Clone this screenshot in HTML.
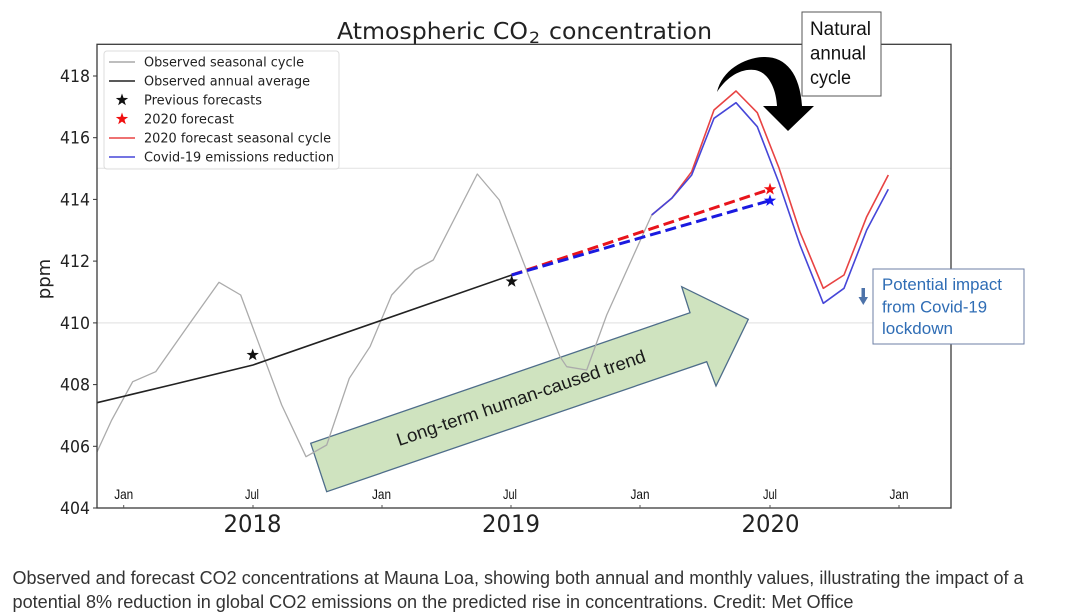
<!DOCTYPE html>
<html><head><meta charset="utf-8"><style>
html,body{margin:0;padding:0;background:#fff;}
svg{display:block;}
</style></head><body>
<svg width="1072" height="616" viewBox="0 0 1072 616" xmlns="http://www.w3.org/2000/svg">
<rect width="1072" height="616" fill="#fff"/>

<!-- title -->
<g font-family="DejaVu Sans, Liberation Sans, sans-serif" fill="#222">
<text x="337" y="39" font-size="23" textLength="191" lengthAdjust="spacingAndGlyphs">Atmospheric CO</text>
<text x="529" y="43" font-size="16" textLength="11" lengthAdjust="spacingAndGlyphs">2</text>
<text x="549" y="39" font-size="23" textLength="163" lengthAdjust="spacingAndGlyphs">concentration</text>
</g>

<!-- grid lines -->
<line x1="97" y1="168.3" x2="951" y2="168.3" stroke="#e6e6e6" stroke-width="1.2"/>
<line x1="97" y1="322.9" x2="951" y2="322.9" stroke="#e6e6e6" stroke-width="1.2"/>

<!-- green trend arrow -->
<polygon points="326.7,491.7 310.7,443.3 690,312.7 681.7,286.7 748.3,319.3 716,386 706.7,361.7" fill="#cfe3bf" stroke="#4e6d8a" stroke-width="1.3" stroke-linejoin="miter"/>
<text transform="translate(521,398) rotate(-18.9)" x="0" y="6" text-anchor="middle" font-family="Liberation Sans, sans-serif" font-size="18" fill="#1a1a1a" textLength="262" lengthAdjust="spacingAndGlyphs">Long-term human-caused trend</text>

<!-- observed seasonal cycle -->
<polyline fill="none" stroke="#ababab" stroke-width="1.3" stroke-linejoin="round" points="97,452 111.7,420 132.7,381.7 155.7,371.7 190,323 219,282.3 240.7,295 281.7,405 306,456.7 326.7,445 349.3,378.3 370,346.7 391.7,295 415,270 433.3,260 477.3,174 499.3,200 560,356.7 566.7,366.7 586.7,370 606.7,315 651.7,215"/>

<!-- observed annual average -->
<polyline fill="none" stroke="#222" stroke-width="1.6" points="97,402.7 175,384 253,365 511.7,275"/>

<!-- dashed forecasts -->
<line x1="511.7" y1="275" x2="770" y2="189.3" stroke="#e8141c" stroke-width="3" stroke-dasharray="11,5"/>
<line x1="511.7" y1="275" x2="770" y2="200.5" stroke="#1a1ae0" stroke-width="3" stroke-dasharray="11,5"/>

<!-- forecast seasonal cycles -->
<polyline fill="none" stroke="#e84343" stroke-width="1.6" stroke-linejoin="round" points="651.7,215 671.7,198.3 691.7,171.7 714,110 736,91 757.3,112.7 779,168 800,232 823.3,288.3 844,275 866.7,216.7 888.3,175"/>
<polyline fill="none" stroke="#4646d8" stroke-width="1.6" stroke-linejoin="round" points="651.7,215 671.7,198.3 691.7,175 714,118.3 736,102.7 757.3,126.7 779,183 800,245 823.3,303.3 844,288.3 866.7,230 888.3,189.3"/>

<!-- stars -->
<path transform="translate(252.7,355)" d="M0,-6.5 L1.53,-2.1 L6.18,-2.01 L2.47,0.8 L3.82,5.26 L0,2.6 L-3.82,5.26 L-2.47,0.8 L-6.18,-2.01 L-1.53,-2.1 Z" fill="#111"/>
<path transform="translate(511.7,281.5)" d="M0,-6.5 L1.53,-2.1 L6.18,-2.01 L2.47,0.8 L3.82,5.26 L0,2.6 L-3.82,5.26 L-2.47,0.8 L-6.18,-2.01 L-1.53,-2.1 Z" fill="#111"/>
<path transform="translate(770,189.3)" d="M0,-6.5 L1.53,-2.1 L6.18,-2.01 L2.47,0.8 L3.82,5.26 L0,2.6 L-3.82,5.26 L-2.47,0.8 L-6.18,-2.01 L-1.53,-2.1 Z" fill="#f01010"/>
<path transform="translate(770,200.7)" d="M0,-6.5 L1.53,-2.1 L6.18,-2.01 L2.47,0.8 L3.82,5.26 L0,2.6 L-3.82,5.26 L-2.47,0.8 L-6.18,-2.01 L-1.53,-2.1 Z" fill="#1515f0"/>

<!-- legend -->
<rect x="104" y="51" width="235" height="118" rx="3" fill="#fff" fill-opacity="0.9" stroke="#dcdcdc" stroke-width="1"/>
<line x1="109" y1="62" x2="135" y2="62" stroke="#a8a8a8" stroke-width="1.4"/>
<line x1="109" y1="81" x2="135" y2="81" stroke="#222" stroke-width="1.6"/>
<path transform="translate(122,100)" d="M0,-6.5 L1.53,-2.1 L6.18,-2.01 L2.47,0.8 L3.82,5.26 L0,2.6 L-3.82,5.26 L-2.47,0.8 L-6.18,-2.01 L-1.53,-2.1 Z" fill="#111"/>
<path transform="translate(122,119)" d="M0,-6.5 L1.53,-2.1 L6.18,-2.01 L2.47,0.8 L3.82,5.26 L0,2.6 L-3.82,5.26 L-2.47,0.8 L-6.18,-2.01 L-1.53,-2.1 Z" fill="#f01010"/>
<line x1="109" y1="138" x2="135" y2="138" stroke="#e84343" stroke-width="1.6"/>
<line x1="109" y1="157" x2="135" y2="157" stroke="#4646d8" stroke-width="1.6"/>
<g font-family="DejaVu Sans, Liberation Sans, sans-serif" font-size="13" fill="#222">
<text x="144" y="66.5" textLength="160" lengthAdjust="spacingAndGlyphs">Observed seasonal cycle</text>
<text x="144" y="85.5" textLength="166" lengthAdjust="spacingAndGlyphs">Observed annual average</text>
<text x="144" y="104.5" textLength="118" lengthAdjust="spacingAndGlyphs">Previous forecasts</text>
<text x="144" y="123.5" textLength="90" lengthAdjust="spacingAndGlyphs">2020 forecast</text>
<text x="144" y="142.5" textLength="187" lengthAdjust="spacingAndGlyphs">2020 forecast seasonal cycle</text>
<text x="144" y="161.5" textLength="190" lengthAdjust="spacingAndGlyphs">Covid-19 emissions reduction</text>
</g>

<!-- axes frame -->
<rect x="97" y="44.3" width="854" height="463.7" fill="none" stroke="#3a3a3a" stroke-width="1.3"/>

<!-- y ticks -->
<g stroke="#333" stroke-width="1">
<line x1="93" y1="76" x2="97" y2="76"/>
<line x1="93" y1="137.7" x2="97" y2="137.7"/>
<line x1="93" y1="199.4" x2="97" y2="199.4"/>
<line x1="93" y1="261.1" x2="97" y2="261.1"/>
<line x1="93" y1="322.9" x2="97" y2="322.9"/>
<line x1="93" y1="384.6" x2="97" y2="384.6"/>
<line x1="93" y1="446.3" x2="97" y2="446.3"/>
<line x1="93" y1="508" x2="97" y2="508"/>
</g>
<g font-family="DejaVu Sans, Liberation Sans, sans-serif" font-size="17" fill="#222" text-anchor="end">
<text x="90" y="82" textLength="30" lengthAdjust="spacingAndGlyphs">418</text>
<text x="90" y="143.7" textLength="30" lengthAdjust="spacingAndGlyphs">416</text>
<text x="90" y="205.4" textLength="30" lengthAdjust="spacingAndGlyphs">414</text>
<text x="90" y="267.1" textLength="30" lengthAdjust="spacingAndGlyphs">412</text>
<text x="90" y="328.9" textLength="30" lengthAdjust="spacingAndGlyphs">410</text>
<text x="90" y="390.6" textLength="30" lengthAdjust="spacingAndGlyphs">408</text>
<text x="90" y="452.3" textLength="30" lengthAdjust="spacingAndGlyphs">406</text>
<text x="90" y="514" textLength="30" lengthAdjust="spacingAndGlyphs">404</text>
</g>
<text transform="translate(50,279) rotate(-90)" x="0" y="0" text-anchor="middle" font-family="DejaVu Sans, Liberation Sans, sans-serif" font-size="18" fill="#222">ppm</text>

<!-- x ticks -->
<g stroke="#555" stroke-width="1">
<line x1="123.7" y1="505" x2="123.7" y2="508"/>
<line x1="253" y1="505" x2="253" y2="508"/>
<line x1="382" y1="505" x2="382" y2="508"/>
<line x1="511" y1="505" x2="511" y2="508"/>
<line x1="640" y1="505" x2="640" y2="508"/>
<line x1="770" y1="505" x2="770" y2="508"/>
<line x1="899" y1="505" x2="899" y2="508"/>
</g>
<g font-family="Liberation Sans, sans-serif" font-size="14" fill="#111" text-anchor="middle">
<text x="123.7" y="499" textLength="19" lengthAdjust="spacingAndGlyphs">Jan</text>
<text x="252" y="499" textLength="14" lengthAdjust="spacingAndGlyphs">Jul</text>
<text x="381.5" y="499" textLength="19" lengthAdjust="spacingAndGlyphs">Jan</text>
<text x="510" y="499" textLength="14" lengthAdjust="spacingAndGlyphs">Jul</text>
<text x="640" y="499" textLength="19" lengthAdjust="spacingAndGlyphs">Jan</text>
<text x="770" y="499" textLength="14" lengthAdjust="spacingAndGlyphs">Jul</text>
<text x="899" y="499" textLength="19" lengthAdjust="spacingAndGlyphs">Jan</text>
</g>
<g font-family="DejaVu Sans, Liberation Sans, sans-serif" font-size="24" fill="#222" text-anchor="middle">
<text x="252.5" y="532" textLength="58" lengthAdjust="spacingAndGlyphs">2018</text>
<text x="511" y="532" textLength="58" lengthAdjust="spacingAndGlyphs">2019</text>
<text x="770.5" y="532" textLength="58" lengthAdjust="spacingAndGlyphs">2020</text>
</g>

<!-- curved black arrow -->
<path d="M717,92 C722,70 745,57 765,57 C786,57 800,74 802,106 L814,106 L788,131 L763,106 L777,106 C776,88 768,72 755,70 C740,68 726,78 717,92 Z" fill="#000"/>

<!-- Natural annual cycle box -->
<rect x="802" y="12" width="79" height="84" fill="#fff" stroke="#555" stroke-width="1"/>
<g font-family="Liberation Sans, sans-serif" font-size="19" fill="#111">
<text x="810" y="35" textLength="61" lengthAdjust="spacingAndGlyphs">Natural</text>
<text x="810" y="59.5" textLength="56" lengthAdjust="spacingAndGlyphs">annual</text>
<text x="810" y="84" textLength="41" lengthAdjust="spacingAndGlyphs">cycle</text>
</g>

<!-- covid box -->
<rect x="873" y="269" width="151" height="75" fill="#fff" stroke="#6c7fa6" stroke-width="1"/>
<g font-family="Liberation Sans, sans-serif" font-size="16.5" fill="#2f6db5">
<text x="882" y="290" textLength="120" lengthAdjust="spacingAndGlyphs">Potential impact</text>
<text x="882" y="312.5" textLength="105" lengthAdjust="spacingAndGlyphs">from Covid-19</text>
<text x="882" y="334" textLength="71" lengthAdjust="spacingAndGlyphs">lockdown</text>
</g>
<path d="M861.5,288 L865,288 L865,297 L868,297 L863.3,305 L858.5,297 L861.5,297 Z" fill="#4d73aa"/>

<!-- caption -->
<g font-family="Liberation Sans, sans-serif" font-size="18.5" fill="#333">
<text x="12.5" y="584" textLength="1011" lengthAdjust="spacingAndGlyphs">Observed and forecast CO2 concentrations at Mauna Loa, showing both annual and monthly values, illustrating the impact of a</text>
<text x="12.5" y="608" textLength="841" lengthAdjust="spacingAndGlyphs">potential 8% reduction in global CO2 emissions on the predicted rise in concentrations. Credit: Met Office</text>
</g>
</svg>
</body></html>
